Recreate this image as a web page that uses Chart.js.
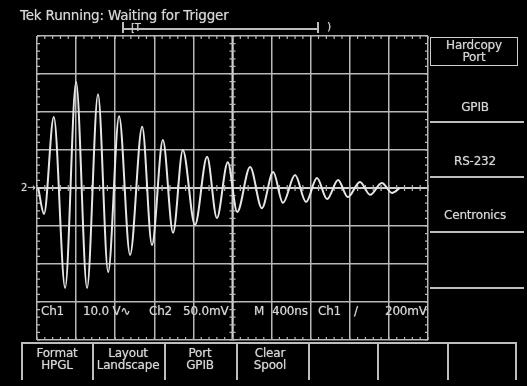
<!DOCTYPE html>
<html>
<head>
<meta charset="utf-8">
<script src="https://cdn.jsdelivr.net/npm/chart.js@4/dist/chart.umd.min.js"></script>
<style>
  html,body{margin:0;padding:0;background:#000;}
  #wrap{position:relative;width:527px;height:386px;background:#000;overflow:hidden;
    font-family:"DejaVu Sans","Liberation Sans",sans-serif;color:#d6d6d6;}
  canvas{position:absolute;left:0;top:0;}
  .t{position:absolute;white-space:nowrap;font-size:12px;line-height:12px;text-shadow:0 0 1px #999;letter-spacing:-0.2px;}
  .c{transform:translateX(-50%);text-align:center;}
  .ln{position:absolute;background:#bdbdbd;}
</style>
</head>
<body>
<div id="wrap">
  <canvas id="c" width="527" height="386"></canvas>

  <div class="t" style="left:20px;top:9px;font-size:13.5px;">Tek Running: Waiting for Trigger</div>
  <!-- record bracket -->
  <div class="ln" style="left:122px;top:28px;width:197px;height:1.5px;"></div>
  <div class="ln" style="left:122px;top:22px;width:1.5px;height:11px;"></div>
  <div class="ln" style="left:317px;top:22px;width:1.5px;height:11px;"></div>
  <div class="t" style="left:131px;top:22px;font-size:10px;">[T</div>
  <div class="t" style="left:327px;top:21px;font-size:11px;">)</div>

  <!-- readout -->
  <div class="t" style="left:41px;top:305px;">Ch1</div>
  <div class="t" style="left:83px;top:305px;">10.0 V&#8767;</div>
  <div class="t" style="left:149px;top:305px;">Ch2</div>
  <div class="t" style="left:183px;top:305px;">50.0mV</div>
  <div class="t" style="left:254px;top:305px;">M</div>
  <div class="t" style="left:272px;top:305px;">400ns</div>
  <div class="t" style="left:318px;top:305px;">Ch1</div>
  <div class="t" style="left:354px;top:305px;">/</div>
  <div class="t" style="left:385px;top:305px;">200mV</div>

  <!-- right menu -->
  <div style="position:absolute;left:430px;top:37px;width:86px;height:27px;border:1.5px solid #cfcfcf;"></div>
  <div class="t c" style="left:474px;top:39px;">Hardcopy</div>
  <div class="t c" style="left:474px;top:51px;">Port</div>
  <div class="t c" style="left:475px;top:101px;">GPIB</div>
  <div class="ln" style="left:430px;top:121px;width:94px;height:1.5px;"></div>
  <div class="t c" style="left:475px;top:155px;">RS-232</div>
  <div class="ln" style="left:430px;top:176px;width:94px;height:1.5px;"></div>
  <div class="t c" style="left:475px;top:209px;">Centronics</div>
  <div class="ln" style="left:430px;top:231px;width:94px;height:1.5px;"></div>
  <div class="ln" style="left:430px;top:287px;width:94px;height:1.5px;"></div>

  <!-- bottom menu -->
  <div class="ln" style="left:21px;top:342px;width:495px;height:1.5px;"></div>
  <div class="ln" style="left:21px;top:342px;width:1.5px;height:38px;"></div>
  <div class="ln" style="left:92px;top:342px;width:1.5px;height:38px;"></div>
  <div class="ln" style="left:164px;top:342px;width:1.5px;height:38px;"></div>
  <div class="ln" style="left:236px;top:342px;width:1.5px;height:38px;"></div>
  <div class="ln" style="left:308px;top:342px;width:1.5px;height:38px;"></div>
  <div class="ln" style="left:377px;top:342px;width:1.5px;height:38px;"></div>
  <div class="ln" style="left:447px;top:342px;width:1.5px;height:38px;"></div>
  <div class="ln" style="left:515px;top:342px;width:1.5px;height:38px;"></div>
  <div class="t c" style="left:57px;top:347px;">Format</div>
  <div class="t c" style="left:57px;top:359px;">HPGL</div>
  <div class="t c" style="left:128px;top:347px;">Layout</div>
  <div class="t c" style="left:128px;top:359px;">Landscape</div>
  <div class="t c" style="left:200px;top:347px;">Port</div>
  <div class="t c" style="left:200px;top:359px;">GPIB</div>
  <div class="t c" style="left:270px;top:347px;">Clear</div>
  <div class="t c" style="left:270px;top:359px;">Spool</div>

  <div class="t" style="left:21px;top:182px;font-size:10px;">2&#8594;</div>
</div>
<script>
// Horizontal position in divisions (0..10), vertical in divisions (-4..4)
const timeDiv = [0.03,0.18,0.43,0.72,1.00,1.28,1.56,1.82,2.10,2.38,2.69,2.94,3.22,3.48,3.73,4.04,4.35,4.60,4.88,5.12,5.45,5.75,6.04,6.29,6.60,6.88,7.16,7.42,7.70,7.95,8.26,8.52,8.82,9.08,9.28];
const ch2Div  = [0.00,-0.68,1.87,-2.63,2.79,-2.63,2.47,-2.21,1.89,-1.76,1.61,-1.50,1.26,-1.18,1.00,-0.97,0.82,-0.79,0.68,-0.63,0.55,-0.53,0.42,-0.39,0.34,-0.37,0.26,-0.29,0.21,-0.24,0.16,-0.18,0.13,-0.13,0.00];
const xRange = [0, 10];
const yRange = [-4, 4];

const GRID = '#b8b8b8';

const minorTicks = {
  id: 'minorTicks',
  beforeDatasetsDraw(chart) {
    const {ctx, chartArea: a, scales: {x, y}} = chart;
    ctx.save();
    const cy = y.getPixelForValue(0), cx = x.getPixelForValue(5);
    ctx.beginPath();
    ctx.moveTo(a.left, cy); ctx.lineTo(a.right, cy);
    ctx.moveTo(cx, a.top); ctx.lineTo(cx, a.bottom);
    ctx.lineWidth = 2; ctx.strokeStyle = '#d0d0d0'; ctx.stroke();
    ctx.lineWidth = 1.2; ctx.strokeStyle = GRID;
    ctx.beginPath();
    for (let v = xRange[0]; v <= xRange[1] + 1e-9; v += 0.2) {
      const px = x.getPixelForValue(v);
      ctx.moveTo(px, cy - 3); ctx.lineTo(px, cy + 3);
      ctx.moveTo(px, a.top); ctx.lineTo(px, a.top + 3);
      ctx.moveTo(px, a.bottom); ctx.lineTo(px, a.bottom - 3);
    }
    for (let v = yRange[0]; v <= yRange[1] + 1e-9; v += 0.2) {
      const py = y.getPixelForValue(v);
      ctx.moveTo(cx - 3, py); ctx.lineTo(cx + 3, py);
      ctx.moveTo(a.left, py); ctx.lineTo(a.left + 3, py);
      ctx.moveTo(a.right, py); ctx.lineTo(a.right - 3, py);
    }
    ctx.stroke();
    ctx.restore();
  }
};

new Chart(document.getElementById('c'), {
  type: 'line',
  data: {
    datasets: [{
      data: timeDiv.map((t, i) => ({x: t, y: ch2Div[i]})),
      borderColor: '#e6e6e6',
      borderWidth: 2,
      pointRadius: 0,
      cubicInterpolationMode: 'monotone',
      fill: false
    }]
  },
  options: {
    responsive: false,
    animation: false,
    devicePixelRatio: 1,
    layout: {padding: {left: 37, right: 99, top: 36, bottom: 46}},
    plugins: {legend: {display: false}, tooltip: {enabled: false}},
    scales: {
      x: {
        type: 'linear', min: xRange[0], max: xRange[1],
        ticks: {display: false, stepSize: 1},
        grid: {color: GRID, lineWidth: 1.5, drawTicks: false},
        border: {display: false}
      },
      y: {
        type: 'linear', min: yRange[0], max: yRange[1],
        ticks: {display: false, stepSize: 1},
        grid: {color: GRID, lineWidth: 1.5, drawTicks: false},
        border: {display: false}
      }
    }
  },
  plugins: [minorTicks]
});
</script>
</body>
</html>
